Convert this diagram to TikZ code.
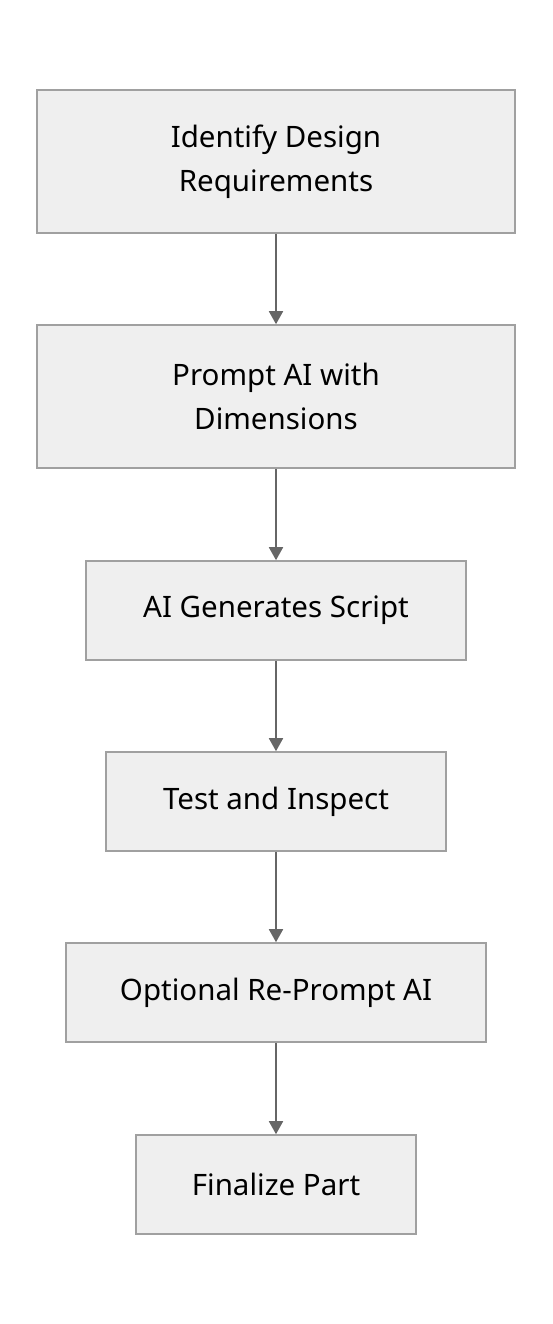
\documentclass[tikz,border=0pt]{standalone}
\usepackage{fontspec}
\setmainfont{Noto Sans}
\usetikzlibrary{arrows.meta}

\definecolor{boxfill}{HTML}{EFEFEF}
\definecolor{boxline}{HTML}{A0A0A0}
\definecolor{arrowgray}{HTML}{666666}

\tikzset{
    stepbox/.style={draw=boxline, fill=boxfill, line width=1.6pt, align=center,
        font=\fontsize{29.5}{44}\selectfont, inner sep=0pt},
    flow/.style={draw=arrowgray, line width=1.8pt, -{Triangle[width=14pt,length=13pt]}}
}

\begin{document}
\begin{tikzpicture}[x=1pt, y=-1pt]
    \useasboundingbox (0,0) rectangle (552,1324);

    % Process steps
    \node[stepbox, minimum width=478pt, minimum height=143pt] (ident) at (276,161.5) {Identify Design\\Requirements};
    \node[stepbox, minimum width=478pt, minimum height=143pt] (prompt) at (276,396.5) {Prompt AI with\\Dimensions};
    \node[stepbox, minimum width=380pt, minimum height=99pt] (gen) at (276,610.5) {AI Generates Script};
    \node[stepbox, minimum width=340pt, minimum height=99pt] (test) at (276,801.5) {Test and Inspect};
    \node[stepbox, minimum width=420pt, minimum height=99pt] (reprompt) at (276,992.5) {Optional Re-Prompt AI};
    \node[stepbox, minimum width=280pt, minimum height=99pt] (final) at (276,1184.5) {Finalize Part};

    % Connectors
    \draw[flow] (ident) -- (prompt);
    \draw[flow] (prompt) -- (gen);
    \draw[flow] (gen) -- (test);
    \draw[flow] (test) -- (reprompt);
    \draw[flow] (reprompt) -- (final);
\end{tikzpicture}
\end{document}
